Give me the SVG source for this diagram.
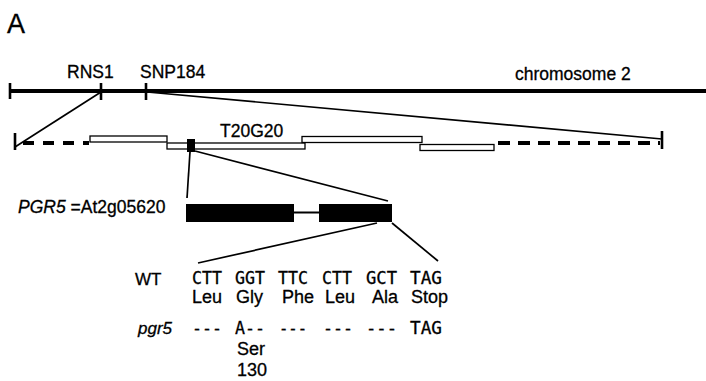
<svg xmlns="http://www.w3.org/2000/svg" width="706" height="381" viewBox="0 0 706 381">
<style>
.t{font-family:"Liberation Sans",Arial,sans-serif;fill:#000;stroke:#000;stroke-width:0.3}
.c{font-family:"DejaVu Sans Mono","Liberation Mono",monospace;font-size:17px;fill:#000;stroke:#000;stroke-width:0.3}
.it{font-style:italic}
.ln{stroke:#000;stroke-width:1.7;fill:none}
.tick{stroke:#000;stroke-width:2.6}
.bac{fill:#fff;stroke:#000;stroke-width:1.3}
</style>
<rect width="706" height="381" fill="#fff"/>
<text class="t" x="7" y="33" font-size="27">A</text>

<g id="chromosome">
  <line x1="10" y1="91" x2="706" y2="91" stroke="#000" stroke-width="4"/>
  <line class="tick" x1="10" y1="83" x2="10" y2="99"/>
  <text class="t" x="515" y="80" font-size="17.5">chromosome 2</text>
</g>
<g id="RNS1">
  <line class="tick" x1="101" y1="83" x2="101" y2="100"/>
  <text class="t" x="67" y="78" font-size="17.5">RNS1</text>
</g>
<g id="SNP184">
  <line class="tick" x1="146" y1="83" x2="146" y2="100"/>
  <text class="t" x="140" y="78" font-size="17.5">SNP184</text>
</g>

<g id="contig">
  <line class="tick" x1="15" y1="133" x2="15" y2="150"/>
  <line x1="15" y1="143" x2="89" y2="143" stroke="#000" stroke-width="4" stroke-dasharray="11 9" stroke-dashoffset="-8"/>
  <line x1="498" y1="143" x2="660" y2="143" stroke="#000" stroke-width="4" stroke-dasharray="12 8"/>
  <line class="tick" x1="662" y1="131" x2="662" y2="149"/>
  <rect class="bac" x="90" y="136" width="77" height="6"/>
  <rect class="bac" x="167" y="143" width="138" height="6"/>
  <rect class="bac" x="302" y="136.5" width="120" height="6"/>
  <rect class="bac" x="420" y="144.5" width="74" height="6"/>
  <rect x="187" y="139" width="8" height="13" fill="#000"/>
  <text class="t" x="220" y="137" font-size="17.5">T20G20</text>
</g>

<g id="gene">
  <text class="t" x="18" y="213" font-size="17.5"><tspan class="it">PGR5</tspan> =At2g05620</text>
  <rect x="186" y="204" width="108" height="18" fill="#000"/>
  <line x1="294" y1="212.5" x2="319" y2="212.5" stroke="#000" stroke-width="2"/>
  <rect x="319" y="204" width="73" height="18" fill="#000"/>
</g>

<g id="connectors">
  <line class="ln" x1="101" y1="92" x2="15" y2="147"/>
  <line class="ln" x1="147" y1="92" x2="662" y2="139"/>
  <line class="ln" x1="190" y1="152" x2="187" y2="198"/>
  <line class="ln" x1="195" y1="151" x2="388" y2="201"/>
  <line class="ln" x1="377" y1="223" x2="198" y2="263"/>
  <line class="ln" x1="392" y1="223" x2="438" y2="261"/>
</g>

<g id="sequence">
  <text class="t" x="135" y="285" font-size="17">WT</text>
  <text class="c" x="192" y="284" textLength="30" lengthAdjust="spacingAndGlyphs">CTT</text>
  <text class="c" x="235" y="284" textLength="30" lengthAdjust="spacingAndGlyphs">GGT</text>
  <text class="c" x="278" y="284" textLength="30" lengthAdjust="spacingAndGlyphs">TTC</text>
  <text class="c" x="322" y="284" textLength="30" lengthAdjust="spacingAndGlyphs">CTT</text>
  <text class="c" x="366" y="284" textLength="31" lengthAdjust="spacingAndGlyphs">GCT</text>
  <text class="c" x="410" y="284" textLength="32" lengthAdjust="spacingAndGlyphs">TAG</text>

  <text class="t" x="192" y="303" font-size="18">Leu</text>
  <text class="t" x="236" y="303" font-size="18">Gly</text>
  <text class="t" x="282" y="303" font-size="18">Phe</text>
  <text class="t" x="325" y="303" font-size="18">Leu</text>
  <text class="t" x="372" y="303" font-size="18">Ala</text>
  <text class="t" x="411" y="303" font-size="18">Stop</text>

  <text class="t it" x="138" y="334" font-size="17">pgr5</text>
  <text class="c" x="192" y="334" textLength="30" lengthAdjust="spacingAndGlyphs">---</text>
  <text class="c" x="235" y="334" textLength="30" lengthAdjust="spacingAndGlyphs">A--</text>
  <text class="c" x="279" y="334" textLength="28" lengthAdjust="spacingAndGlyphs">---</text>
  <text class="c" x="323" y="334" textLength="30" lengthAdjust="spacingAndGlyphs">---</text>
  <text class="c" x="366" y="334" textLength="31" lengthAdjust="spacingAndGlyphs">---</text>
  <text class="c" x="410" y="334" textLength="32" lengthAdjust="spacingAndGlyphs">TAG</text>
  <text class="t" x="237" y="355" font-size="18">Ser</text>
  <text class="t" x="237" y="376" font-size="18">130</text>
</g>
</svg>
